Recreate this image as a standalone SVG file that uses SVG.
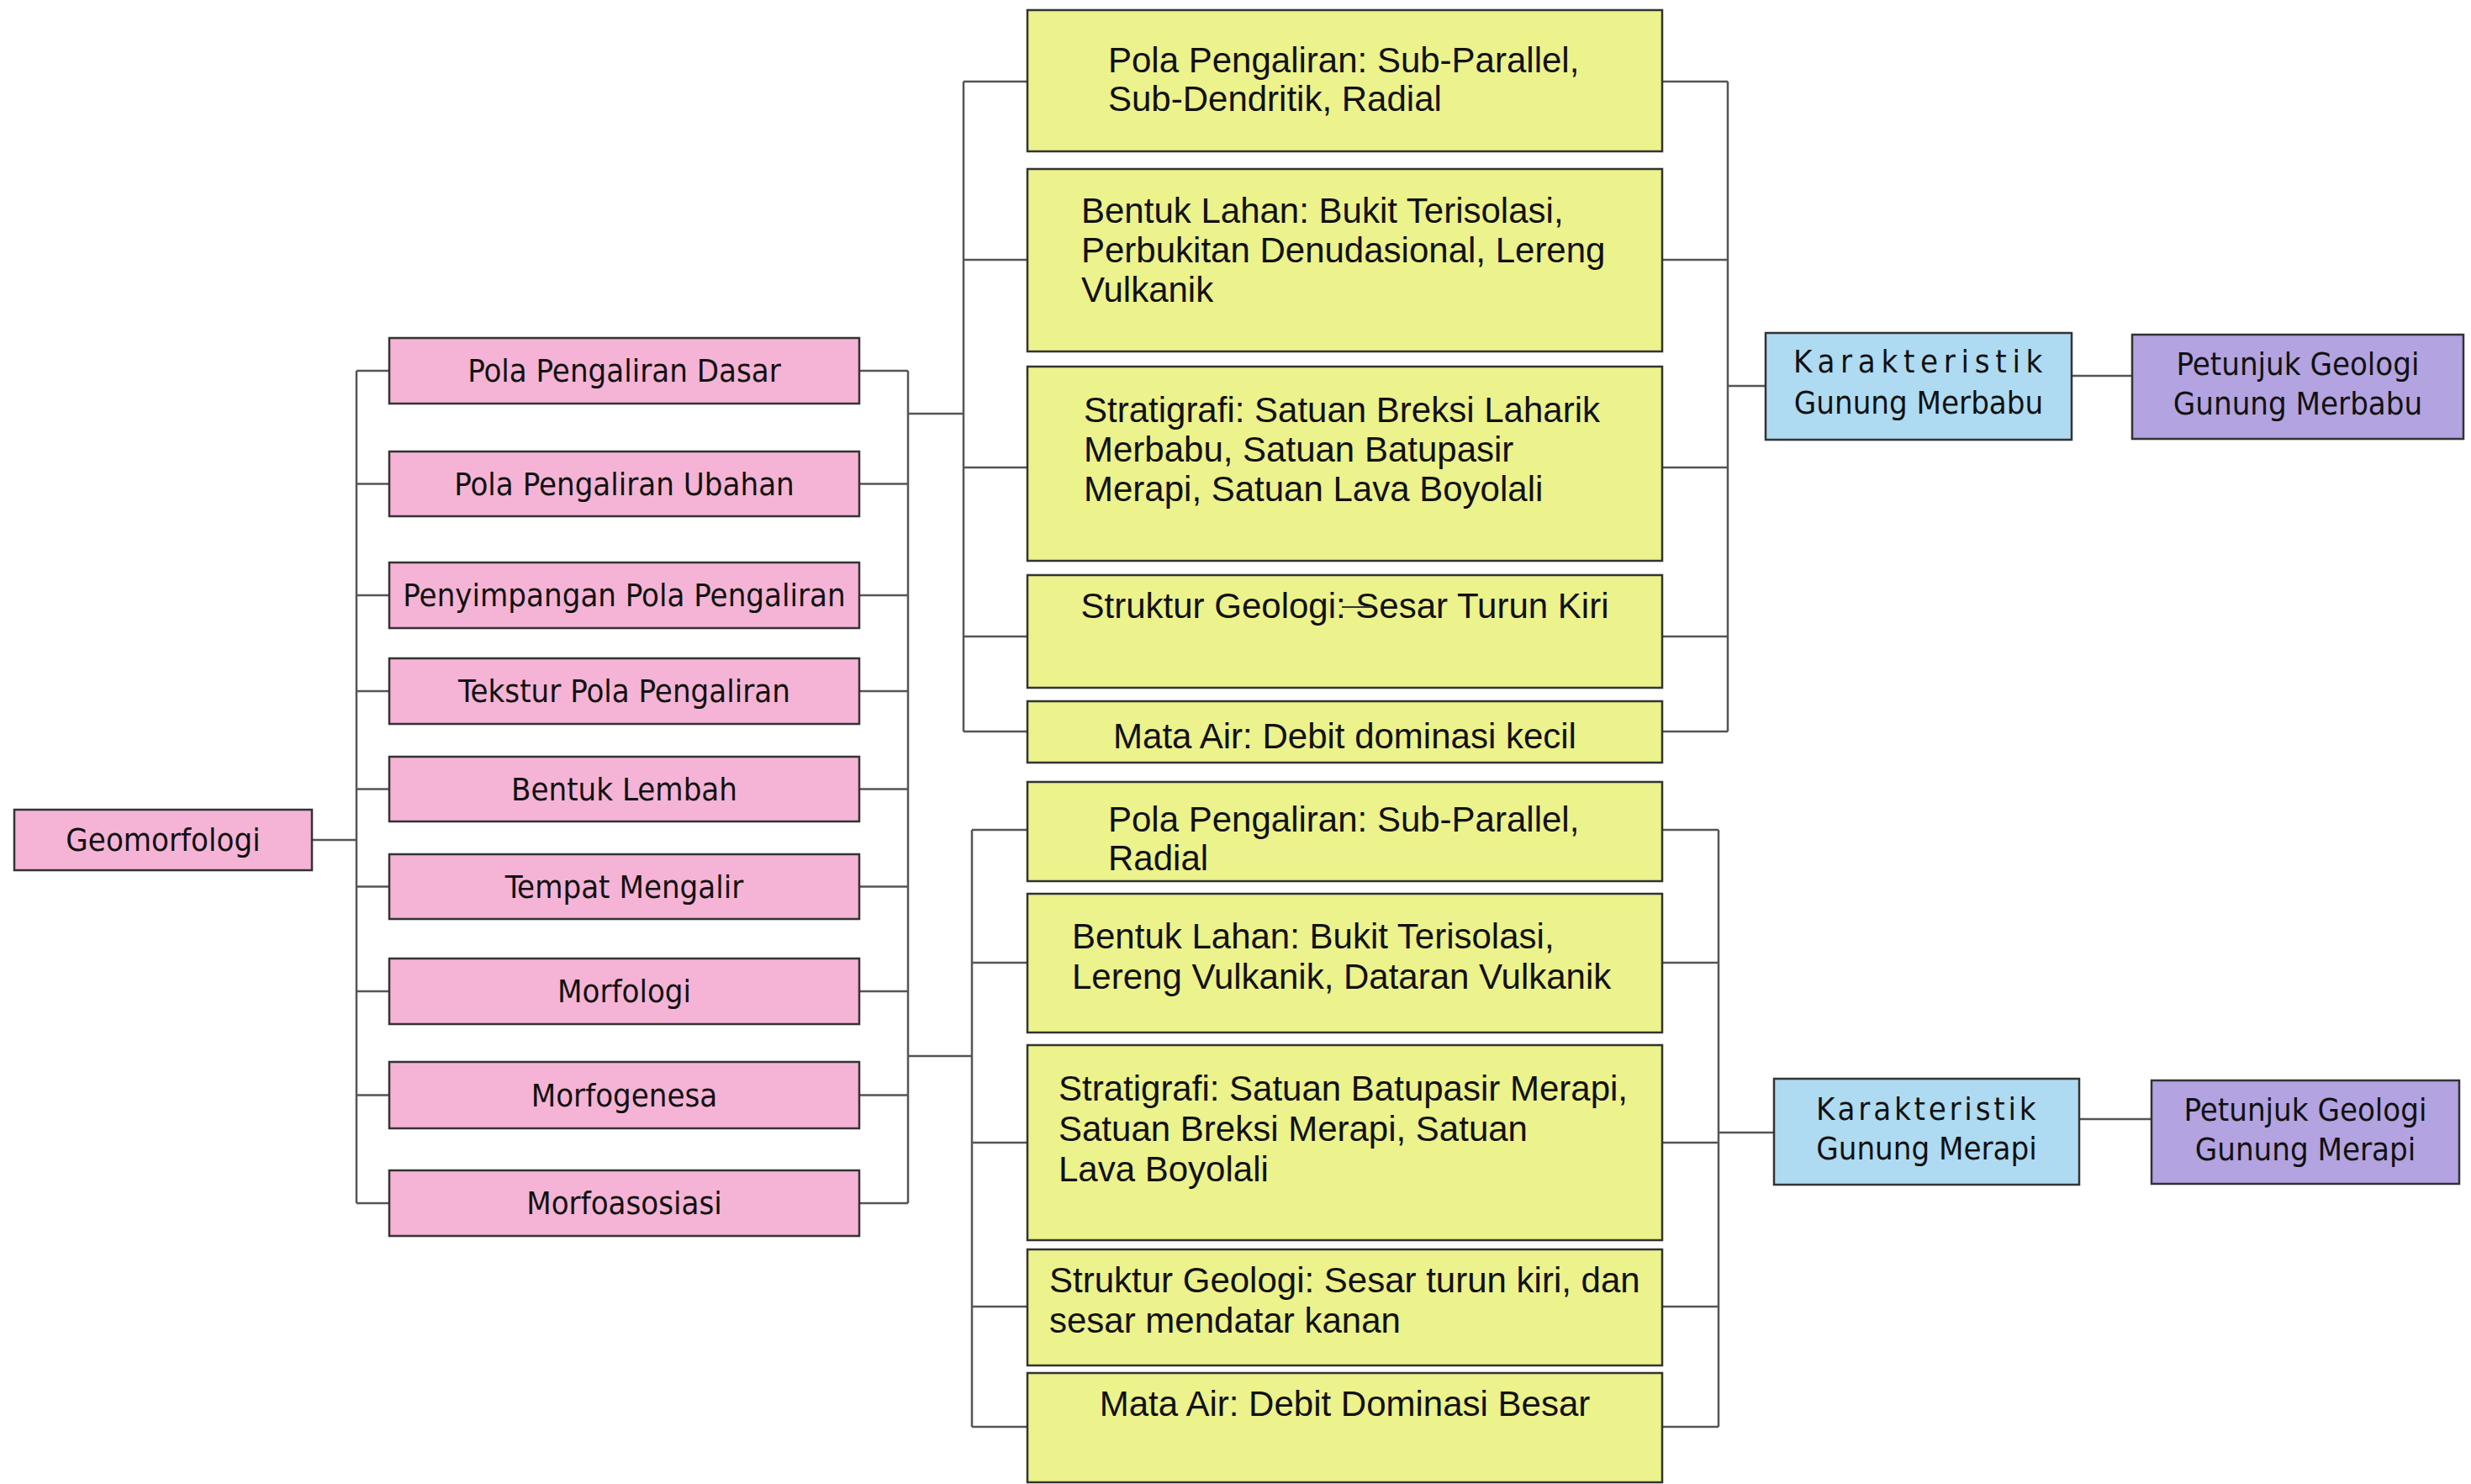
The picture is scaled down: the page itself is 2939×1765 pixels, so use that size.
<svg xmlns="http://www.w3.org/2000/svg" width="2939" height="1765" viewBox="0 0 2939 1765">
<style>
.box{stroke:#333;stroke-width:2.5}
.pink{fill:#F5B4D5}
.yel{fill:#ECF28C}
.blue{fill:#AEDBF1}
.purp{fill:#B3A3E0}
.t{font-family:"DejaVu Sans Condensed","DejaVu Sans",sans-serif;font-stretch:condensed;font-size:38px;fill:#111;text-anchor:middle}
.y{font-family:"Liberation Sans",Arial,sans-serif;font-size:42px;fill:#111}
.c{font-family:"Liberation Sans",Arial,sans-serif;font-size:42px;fill:#111;text-anchor:middle}
.conn{fill:none;stroke:#555;stroke-width:2.5}
</style>
<rect width="2939" height="1765" fill="#fff"/>
<g id="connectors" class="conn">
<path d="M371,999H424M424,441V1431M424,441H463M424,575.5H463M424,708H463M424,822H463M424,938.5H463M424,1054.5H463M424,1179H463M424,1302.5H463M424,1431H463"/>
<path d="M1080,441V1431M1022,441H1080M1022,575.5H1080M1022,708H1080M1022,822H1080M1022,938.5H1080M1022,1054.5H1080M1022,1179H1080M1022,1302.5H1080M1022,1431H1080"/>
<path d="M1080,492H1146M1080,1256H1156"/>
<path d="M1146,97V870M1146,97H1222M1146,309H1222M1146,556H1222M1146,757H1222M1146,870H1222"/>
<path d="M2055,97V870M1977,97H2055M1977,309H2055M1977,556H2055M1977,757H2055M1977,870H2055M2055,459H2100"/>
<path d="M2464,447H2536"/>
<path d="M1156,987V1697M1156,987H1222M1156,1145H1222M1156,1359H1222M1156,1554H1222M1156,1697H1222"/>
<path d="M2044,987V1697M1977,987H2044M1977,1145H2044M1977,1359H2044M1977,1554H2044M1977,1697H2044M2044,1347H2110"/>
<path d="M2473,1331H2559"/>
</g>
<g id="geomorfologi"><rect class="box pink" x="17" y="963" width="354" height="72"/><text class="t" x="194" y="1012">Geomorfologi</text></g>
<g id="pola-dasar"><rect class="box pink" x="463" y="402" width="559" height="78"/><text class="t" x="742.5" y="454">Pola Pengaliran Dasar</text></g>
<g id="pola-ubahan"><rect class="box pink" x="463" y="537" width="559" height="77"/><text class="t" x="742.5" y="588.5">Pola Pengaliran Ubahan</text></g>
<g id="penyimpangan"><rect class="box pink" x="463" y="669" width="559" height="78"/><text class="t" x="742.5" y="721">Penyimpangan Pola Pengaliran</text></g>
<g id="tekstur"><rect class="box pink" x="463" y="783" width="559" height="78"/><text class="t" x="742.5" y="835">Tekstur Pola Pengaliran</text></g>
<g id="bentuk-lembah"><rect class="box pink" x="463" y="900" width="559" height="77"/><text class="t" x="742.5" y="951.5">Bentuk Lembah</text></g>
<g id="tempat-mengalir"><rect class="box pink" x="463" y="1016" width="559" height="77"/><text class="t" x="742.5" y="1067.5">Tempat Mengalir</text></g>
<g id="morfologi"><rect class="box pink" x="463" y="1140" width="559" height="78"/><text class="t" x="742.5" y="1192">Morfologi</text></g>
<g id="morfogenesa"><rect class="box pink" x="463" y="1263" width="559" height="79"/><text class="t" x="742.5" y="1315.5">Morfogenesa</text></g>
<g id="morfoasosiasi"><rect class="box pink" x="463" y="1392" width="559" height="78"/><text class="t" x="742.5" y="1444">Morfoasosiasi</text></g>
<g id="merbabu-pola"><rect class="box yel" x="1222" y="12" width="755" height="168"/><text class="y" x="1318" y="86">Pola Pengaliran: Sub-Parallel,<tspan x="1318" y="132">Sub-Dendritik, Radial</tspan></text></g>
<g id="merbabu-bentuk"><rect class="box yel" x="1222" y="201" width="755" height="217"/><text class="y" x="1286" y="265">Bentuk Lahan: Bukit Terisolasi,<tspan x="1286" y="312">Perbukitan Denudasional, Lereng</tspan><tspan x="1286" y="359">Vulkanik</tspan></text></g>
<g id="merbabu-strat"><rect class="box yel" x="1222" y="436" width="755" height="231"/><text class="y" x="1289" y="502">Stratigrafi: Satuan Breksi Laharik<tspan x="1289" y="549">Merbabu, Satuan Batupasir</tspan><tspan x="1289" y="596">Merapi, Satuan Lava Boyolali</tspan></text></g>
<g id="merbabu-struktur"><rect class="box yel" x="1222" y="684" width="755" height="134"/><text class="c" x="1599.5" y="735">Struktur Geologi: Sesar Turun Kiri</text><line x1="1596" y1="722" x2="1632" y2="722" stroke="#333" stroke-width="2"/></g>
<g id="merbabu-mata-air"><rect class="box yel" x="1222" y="834" width="755" height="73"/><text class="c" x="1599.5" y="890">Mata Air: Debit dominasi kecil</text></g>
<g id="merapi-pola"><rect class="box yel" x="1222" y="930" width="755" height="118"/><text class="y" x="1318" y="989">Pola Pengaliran: Sub-Parallel,<tspan x="1318" y="1035">Radial</tspan></text></g>
<g id="merapi-bentuk"><rect class="box yel" x="1222" y="1063" width="755" height="165"/><text class="y" x="1275" y="1128">Bentuk Lahan: Bukit Terisolasi,<tspan x="1275" y="1176">Lereng Vulkanik, Dataran Vulkanik</tspan></text></g>
<g id="merapi-strat"><rect class="box yel" x="1222" y="1243" width="755" height="232"/><text class="y" x="1259" y="1309">Stratigrafi: Satuan Batupasir Merapi,<tspan x="1259" y="1357">Satuan Breksi Merapi, Satuan</tspan><tspan x="1259" y="1405">Lava Boyolali</tspan></text></g>
<g id="merapi-struktur"><rect class="box yel" x="1222" y="1486" width="755" height="138"/><text class="y" x="1248" y="1537">Struktur Geologi: Sesar turun kiri, dan<tspan x="1248" y="1585">sesar mendatar kanan</tspan></text></g>
<g id="merapi-mata-air"><rect class="box yel" x="1222" y="1633" width="755" height="130"/><text class="c" x="1599.5" y="1684">Mata Air: Debit Dominasi Besar</text></g>
<g id="karakteristik-merbabu"><rect class="box blue" x="2100" y="396" width="364" height="127"/><text class="t" x="2133" y="443" style="text-anchor:start;letter-spacing:6.7px">Karakteristik</text><text class="t" x="2282" y="492">Gunung Merbabu</text></g>
<g id="petunjuk-merbabu"><rect class="box purp" x="2536" y="398" width="394" height="124"/><text class="t" x="2733" y="446">Petunjuk Geologi<tspan x="2733" y="493">Gunung Merbabu</tspan></text></g>
<g id="karakteristik-merapi"><rect class="box blue" x="2110" y="1283" width="363" height="126"/><text class="t" x="2160" y="1332" style="text-anchor:start;letter-spacing:3.8px">Karakteristik</text><text class="t" x="2291.5" y="1379">Gunung Merapi</text></g>
<g id="petunjuk-merapi"><rect class="box purp" x="2559" y="1285" width="366" height="123"/><text class="t" x="2742" y="1333">Petunjuk Geologi<tspan x="2742" y="1380">Gunung Merapi</tspan></text></g>
</svg>
